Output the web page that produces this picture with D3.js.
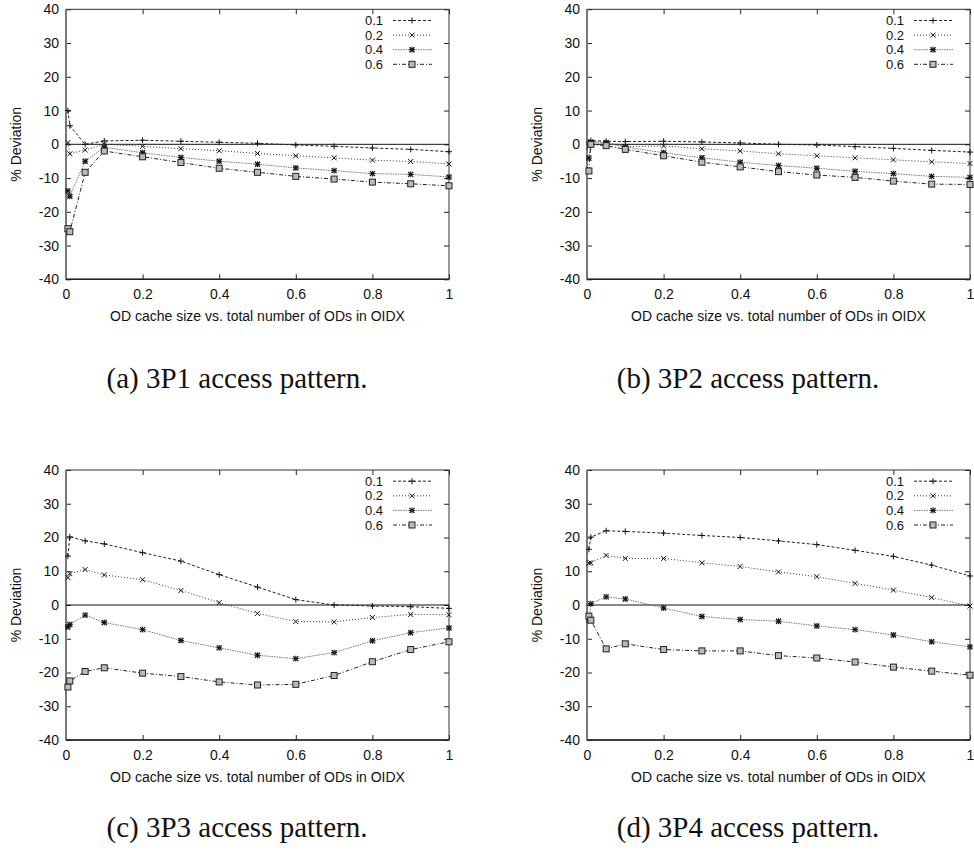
<!DOCTYPE html>
<html>
<head>
<meta charset="utf-8">
<script src="https://cdn.jsdelivr.net/npm/d3@7"></script>
<style>
  body { margin: 0; background: #fff; }
  svg text { font-family: "Liberation Sans", Arial, sans-serif; fill: #111; }
  svg text.caption { font-family: "Liberation Serif", "Times New Roman", serif; }
</style>
</head>
<body>
<div class="chart"></div>
<script>
// data
const cacheRatio = [0.005, 0.01, 0.05, 0.1, 0.2, 0.3, 0.4, 0.5, 0.6, 0.7, 0.8, 0.9, 1.0];
const seriesNames = ["0.1", "0.2", "0.4", "0.6"];
const xTicks = [0, 0.2, 0.4, 0.6, 0.8, 1];
const yTicks = [-40, -30, -20, -10, 0, 10, 20, 30, 40];
const captions = ["(a) 3P1 access pattern.", "(b) 3P2 access pattern.", "(c) 3P3 access pattern.", "(d) 3P4 access pattern."];

const dev3P1 = [
   [10, 5.5, 0, 1, 1.2, 0.9, 0.6, 0.3, -0.2, -0.6, -1.1, -1.5, -2.2],
   [0.5, -2.8, -1.7, 0, -0.6, -1.3, -1.9, -2.7, -3.4, -4, -4.7, -5.1, -5.8],
   [-13.8, -15.4, -5, -0.9, -2.5, -3.9, -5, -5.9, -7, -7.8, -8.7, -8.9, -9.7],
   [-25, -25.9, -8.3, -2, -3.7, -5.4, -7.1, -8.3, -9.5, -10.3, -11.2, -11.7, -12.3]
];
const dev3P2 = [
   [0.5, 1.1, 0.9, 0.8, 0.9, 0.7, 0.4, 0, -0.2, -0.7, -1.2, -1.8, -2.3],
   [-0.7, 0.8, 0.6, -0.7, -0.5, -1.3, -2, -2.8, -3.4, -4, -4.6, -5.2, -5.7],
   [-4.1, 0.5, 0.3, -0.8, -2.5, -4, -5.3, -6.3, -7.1, -8, -8.7, -9.5, -9.8],
   [-7.9, 0, -0.4, -1.5, -3.4, -5.3, -6.7, -8.1, -9.1, -9.8, -10.9, -11.8, -11.9]
];
const dev3P3 = [
   [14.5, 20.2, 19, 18.1, 15.5, 13, 9, 5.3, 1.6, 0, -0.3, -0.5, -1],
   [8.1, 9.3, 10.5, 8.9, 7.5, 4.3, 0.7, -2.5, -4.9, -5, -3.7, -2.8, -2.9],
   [-6.5, -5.8, -3, -5.2, -7.3, -10.5, -12.7, -14.9, -15.9, -14.1, -10.6, -8.2, -6.8],
   [-24.3, -22.5, -19.7, -18.6, -20.2, -21.2, -22.8, -23.7, -23.5, -20.9, -16.8, -13.2, -10.9]
];
const dev3P4 = [
   [16.5, 20.1, 22, 21.8, 21.3, 20.6, 20, 19, 17.9, 16.2, 14.4, 11.8, 8.6],
   [12.4, 12.5, 14.7, 13.8, 13.8, 12.5, 11.4, 9.8, 8.4, 6.4, 4.4, 2.2, -0.3],
   [-4.4, 0.4, 2.4, 1.8, -0.9, -3.4, -4.3, -4.8, -6.2, -7.3, -8.9, -10.9, -12.4],
   [-3.3, -4.5, -13, -11.5, -13.2, -13.6, -13.6, -15, -15.7, -16.9, -18.4, -19.6, -20.8]
];
const panelData = [dev3P1, dev3P2, dev3P3, dev3P4];

// setup
const width = 974;
const height = 861;
const svg = d3.select(".chart").append("svg").attr("width", width).attr("height", height);

const plotW = 383;
const plotH = 270;
const panels = [
   { left: 66, top: 9.3, capX: 237, capY: 388 },
   { left: 587, top: 9.3, capX: 748, capY: 388 },
   { left: 66, top: 470, capX: 237, capY: 837 },
   { left: 587, top: 470, capX: 748, capY: 837 }
];

// line styles per series
const styles = [
   { color: "#222", dash: "3,2", marker: "plus" },
   { color: "#333", dash: "1,2", marker: "cross" },
   { color: "#777", dash: "1.5,1", marker: "star" },
   { color: "#222", dash: "4,2,1,2", marker: "square" }
];

function drawMarker(g, type, x, y) {
   const s = 3;
   if (type === "plus" || type === "star") {
      g.append("path").attr("d", `M${x - s},${y}H${x + s}M${x},${y - s}V${y + s}`)
         .attr("stroke", "#111").attr("stroke-width", 1);
   }
   if (type === "cross" || type === "star") {
      const c = 2.5;
      g.append("path").attr("d", `M${x - c},${y - c}L${x + c},${y + c}M${x - c},${y + c}L${x + c},${y - c}`)
         .attr("stroke", "#111").attr("stroke-width", type === "star" ? 1.3 : 1);
   }
   if (type === "square") {
      g.append("rect").attr("x", x - 3).attr("y", y - 3).attr("width", 6).attr("height", 6)
         .attr("fill", "#bbb").attr("stroke", "#222").attr("stroke-width", 1);
   }
}

panels.forEach((p, i) => {
   const g = svg.append("g").attr("transform", `translate(${p.left},${p.top})`);
   const x = d3.scaleLinear().domain([0, 1]).range([0, plotW]);
   const y = d3.scaleLinear().domain([-40, 40]).range([plotH, 0]);

   // axes (ticks point inward, gnuplot style)
   const fmt = (d) => String(d);
   g.append("g").attr("transform", `translate(0,${plotH})`)
      .call(d3.axisBottom(x).tickValues(xTicks).tickSizeInner(-5).tickSizeOuter(0).tickPadding(10).tickFormat(fmt));
   g.append("g")
      .call(d3.axisLeft(y).tickValues(yTicks).tickSizeInner(-5).tickSizeOuter(0).tickPadding(7).tickFormat(fmt));
   g.append("g")
      .call(d3.axisTop(x).tickValues(xTicks).tickSizeInner(-5).tickSizeOuter(0).tickFormat(""));
   g.append("g").attr("transform", `translate(${plotW},0)`)
      .call(d3.axisRight(y).tickValues(yTicks).tickSizeInner(-5).tickSizeOuter(0).tickFormat(""));
   g.selectAll(".domain").remove();
   g.selectAll(".tick line").attr("stroke", "#222");
   g.selectAll(".tick text").attr("font-size", 14).attr("fill", "#111")
      .attr("font-family", "'Liberation Sans', Arial, sans-serif");

   // frame
   g.append("rect").attr("width", plotW).attr("height", plotH)
      .attr("fill", "none").attr("stroke", "#333").attr("stroke-width", 1);
   g.append("line").attr("x1", 0).attr("x2", 0).attr("y1", 0).attr("y2", plotH)
      .attr("stroke", "#777").attr("stroke-width", 2);
   g.append("line").attr("x1", 0).attr("x2", plotW).attr("y1", plotH).attr("y2", plotH)
      .attr("stroke", "#222").attr("stroke-width", 1.5);

   // zero line
   g.append("line").attr("x1", 0).attr("x2", plotW).attr("y1", y(0)).attr("y2", y(0))
      .attr("stroke", "#111").attr("stroke-width", 1);

   // series
   const line = d3.line().x((d) => x(d[0])).y((d) => y(d[1]));
   panelData[i].forEach((vals, k) => {
      const st = styles[k];
      const pts = cacheRatio.map((c, j) => [c, vals[j]]);
      g.append("path").datum(pts).attr("d", line)
         .attr("fill", "none").attr("stroke", st.color).attr("stroke-width", 1)
         .attr("stroke-dasharray", st.dash);
      const mg = g.append("g");
      pts.forEach((d) => drawMarker(mg, st.marker, x(d[0]), y(d[1])));
   });

   // legend
   const lg = g.append("g");
   seriesNames.forEach((name, k) => {
      const st = styles[k];
      const by = 15.7 + k * 14.6;
      lg.append("text").attr("x", 317).attr("y", by).attr("text-anchor", "end")
         .attr("font-size", 13).text(name);
      lg.append("line").attr("x1", 327).attr("x2", 366).attr("y1", by - 4.5).attr("y2", by - 4.5)
         .attr("stroke", st.color).attr("stroke-width", 1).attr("stroke-dasharray", st.dash);
      drawMarker(lg, st.marker, 346, by - 4.5);
   });

   // axis labels
   g.append("text").attr("transform", `translate(-50,${plotH / 2}) rotate(-90)`)
      .attr("text-anchor", "middle").attr("dy", "0.35em").attr("font-size", 14).text("% Deviation");
   g.append("text").attr("x", plotW / 2).attr("y", plotH + 42).attr("text-anchor", "middle")
      .attr("font-size", 14).text("OD cache size vs. total number of ODs in OIDX");

   // caption
   svg.append("text").attr("class", "caption").attr("x", p.capX).attr("y", p.capY)
      .attr("text-anchor", "middle").attr("font-size", 29).text(captions[i]);
});
</script>
</body>
</html>
